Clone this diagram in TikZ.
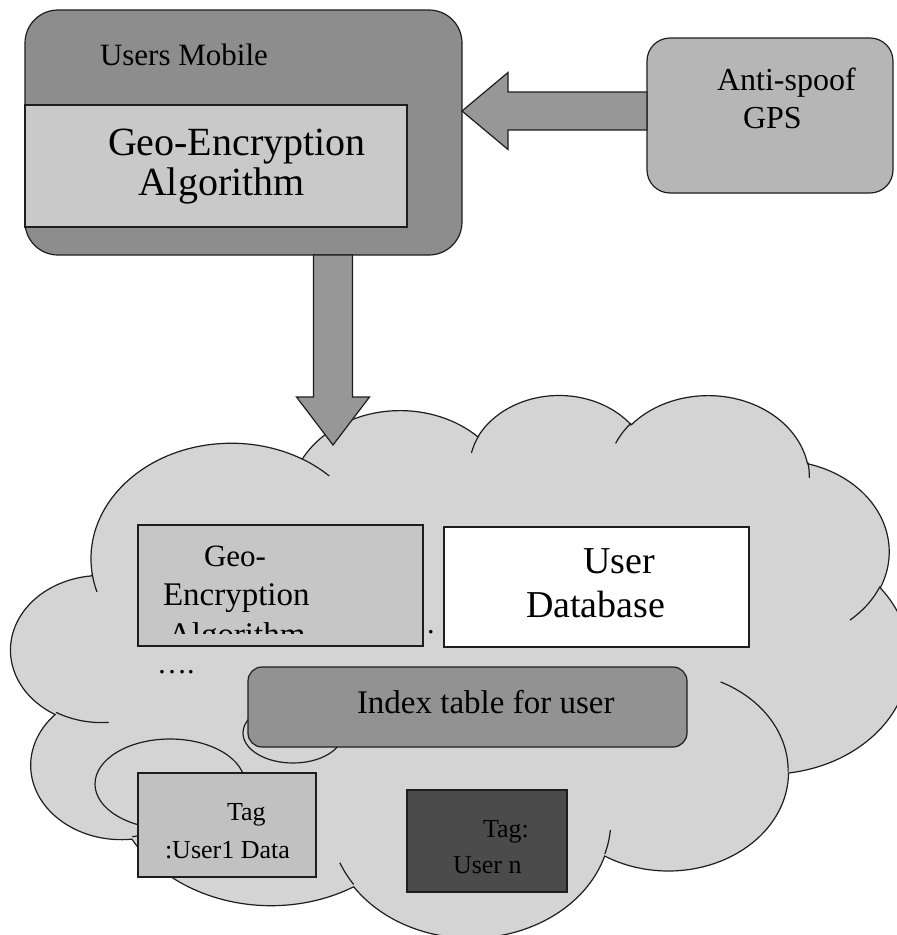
\documentclass[tikz,border=0pt]{standalone}
\usepackage{fontspec}
\setmainfont{Liberation Serif}
\usetikzlibrary{calc}

\definecolor{edge}{HTML}{1E1E1E}
\definecolor{mobfill}{HTML}{8D8D8D}
\definecolor{mobinner}{HTML}{C9C9C9}
\definecolor{gpsfill}{HTML}{B6B6B6}
\definecolor{arrowfill}{HTML}{979797}
\definecolor{cloudfill}{HTML}{D4D4D4}
\definecolor{geofill}{HTML}{C6C6C6}
\definecolor{idxfill}{HTML}{929292}
\definecolor{tagafill}{HTML}{C1C1C1}
\definecolor{tagnfill}{HTML}{4B4B4B}

% cloud geometry: scale factors from path units to points
\newcommand\cldsx{0.020785}
\newcommand\cldsy{0.012552}
% elliptic arc given by radii and visual start/sweep angles (y downwards)
\newcommand\cldarc[4]{%
  \pgfmathsetmacro\cldP{atan2((#1)*sin(#3),(#2)*cos(#3))}%
  \pgfmathsetmacro\cldQ{atan2((#1)*sin((#3)+(#4)),(#2)*cos((#3)+(#4)))}%
  \pgfmathsetmacro\cldD{mod(\cldQ-(\cldP)+720,360)}%
  \pgfmathsetmacro\cldS{0-(\cldP)}%
  \pgfmathsetmacro\cldE{0-(\cldP)-(\cldD)}%
  \pgfmathsetmacro\cldA{(#1)*\cldsx}%
  \pgfmathsetmacro\cldB{(#2)*\cldsy}%
}
\newcommand\cldadd[4]{\cldarc{#1}{#2}{#3}{#4}%
  \xdef\cldpath{\cldpath arc[start angle=\cldS,end angle=\cldE,x radius=\cldA pt,y radius=\cldB pt]}}
\newcommand\cldtail[6]{\cldarc{#3}{#4}{#5}{#6}%
  \draw[cloudedge] (#1,#2) arc[start angle=\cldS,end angle=\cldE,x radius=\cldA pt,y radius=\cldB pt];}

\begin{document}
\begin{tikzpicture}[x=1pt,y=-1pt,
  box/.style={draw=edge, line width=1.2pt, inner sep=0pt, outer sep=0pt},
  lbl/.style={inner sep=0pt, outer sep=0pt, anchor=base west, text=black},
  cloudedge/.style={draw=edge, line width=1.2pt},
  cloudbody/.style={fill=cloudfill, draw=edge, line width=1.2pt},
  arrowbox/.style={fill=arrowfill, draw=edge, line width=1.2pt, line join=miter},
  f26/.style={font=\fontsize{26}{30}\selectfont},
  f30/.style={font=\fontsize{30}{34}\selectfont},
  f31/.style={font=\fontsize{31}{35}\selectfont},
  f32/.style={font=\fontsize{32}{36}\selectfont},
  f33/.style={font=\fontsize{33}{38}\selectfont},
  f38/.style={font=\fontsize{38}{44}\selectfont},
  f40/.style={font=\fontsize{40}{46}\selectfont}]
\useasboundingbox[fill=white] (0,0) rectangle (897,935);

% ---------- mobile device ----------
\node[box, fill=mobfill, rounded corners=33pt, minimum width=437pt, minimum height=245pt]
  (mobile) at (243.5,132.5) {};
\node[box, fill=mobinner, minimum width=382pt, minimum height=122pt] (mobinner) at (216,166) {};
\node[lbl, f31] (tUM) at (100,65) {Users Mobile};
\node[lbl, f40] (tGE1) at (108,155) {Geo-Encryption};
\node[lbl, f40] (tGE2) at (138,195) {Algorithm};

% ---------- GPS source ----------
\node[box, fill=gpsfill, rounded corners=23pt, minimum width=246pt, minimum height=155pt]
  (gps) at (770,115.5) {};
\node[lbl, f32] (tAS1) at (717,90) {Anti-spoof};
\node[lbl, f32] (tAS2) at (743,128) {GPS};

% ---------- cloud ----------
\gdef\cldpath{}
\cldadd{6753}{9190}{-190.48748}{123.78053}
\cldadd{5333}{7267}{-144.10238}{89.94523}
\cldadd{4365}{5945}{-145.80792}{99.72302}
\cldadd{4857}{6595}{-130.98607}{117.24173}
\cldadd{5333}{7273}{-78.70888}{109.02692}
\cldadd{6775}{9220}{-46.26725}{130.269}
\cldadd{5785}{7867}{0.62502}{114.03333}
\cldadd{6752}{9215}{22.4516}{115.17255}
\cldadd{7720}{10543}{66.24263}{75.71102}
\cldadd{4360}{5918}{-274.94208}{146.73557}
\cldadd{4345}{5945}{-246.8285}{152.51885}
\begin{scope}[shift={(11.2,393.8)},x=2.0785pt,y=-1.2552pt]
  \edef\cldcmd{\noexpand\path[cloudbody] (39.00,143.70) \cldpath -- cycle;}\cldcmd
  \cldtail{46.93}{261.77}{4345}{5945}{86.742}{26.4295}
  \cldtail{69.28}{348.99}{4360}{5918}{73.61047}{11.44747}
  \cldtail{164.78}{390.90}{6752}{9215}{137.62415}{14.0811}
  \cldtail{288.27}{347.51}{6752}{9215}{6.45327}{15.99835}
  \cldtail{341.29}{229.54}{5785}{7867}{-70.29235}{70.91737}
  \cldtail{417.98}{153.54}{5333}{7273}{30.31803}{27.7515}
  \cldtail{383.24}{54.26}{4857}{6595}{-13.74433}{14.8589}
  \cldtail{290.78}{39.52}{4857}{6595}{-149.18145}{18.19537}
  \cldtail{221.41}{47.20}{4365}{5945}{-163.49427}{17.68635}
  \cldtail{140.00}{51.92}{6753}{9190}{-66.70695}{12.31935}
  \cldtail{41.27}{157.89}{6753}{9190}{157.65435}{11.85817}
\end{scope}
% callout bubbles
\draw[cloudbody] (170,784) ellipse [x radius=75pt, y radius=45pt];
\draw[cloudbody] (293,733) ellipse [x radius=50pt, y radius=30pt];

% ---------- block arrows ----------
\coordinate (dtip) at (333,445);
\coordinate (dtop) at (mobile.south -| dtip);
\draw[arrowbox] ($(dtop)+(-19.5,0)$) -- ($(dtop)+(19.5,0)$) -- ($(dtip)+(19.5,-48)$)
  -- ($(dtip)+(36.5,-48)$) -- (dtip) -- ($(dtip)+(-36.5,-48)$) -- ($(dtip)+(-19.5,-48)$) -- cycle;
\coordinate (lrow) at (0,111);
\coordinate (ltip) at (mobile.east |- lrow);
\coordinate (lend) at (gps.west |- lrow);
\draw[arrowbox] (ltip) -- ($(ltip)+(46,-38.5)$) -- ($(ltip)+(46,-19)$) -- ($(lend)+(0,-19)$)
  -- ($(lend)+(0,19)$) -- ($(ltip)+(46,19)$) -- ($(ltip)+(46,38.5)$) -- cycle;

% ---------- contents of the cloud ----------
\node[box, fill=geofill, minimum width=285pt, minimum height=121pt] (geo) at (280.5,585.5) {};
\node[lbl, f31] (tG1) at (204,566) {Geo-};
\node[lbl, f33] (tG2) at (163,605) {Encryption};
\begin{scope}
  \clip (138,525) rectangle (423,633);
  \node[lbl, f33] (tG3) at (168,645) {Algorithm};
\end{scope}
\node[lbl, f30] (tDot) at (427,633) {.};
\node[lbl, f30] (tEll) at (157,673) {….};

\node[box, fill=white, minimum width=305pt, minimum height=120pt] (udb) at (596.5,587) {};
\node[lbl, f38] (tU1) at (583,573) {User};
\node[lbl, f38] (tU2) at (526,617) {Database};

\node[box, fill=idxfill, rounded corners=14pt, minimum width=439pt, minimum height=80pt]
  (idx) at (467.5,707) {};
\node[lbl, f33] (tIdx) at (357,713) {Index table for user};

\node[box, fill=tagafill, minimum width=178pt, minimum height=104pt] (taga) at (227,825) {};
\node[lbl, f26] (tTa1) at (227,820) {Tag};
\node[lbl, f26] (tTa2) at (165,858) {:User1 Data};

\node[box, fill=tagnfill, minimum width=160pt, minimum height=102pt] (tagn) at (487,841) {};
\node[lbl, f26] (tTb1) at (483,837) {Tag:};
\node[lbl, f26] (tTb2) at (453,873) {User n};
\end{tikzpicture}
\end{document}
